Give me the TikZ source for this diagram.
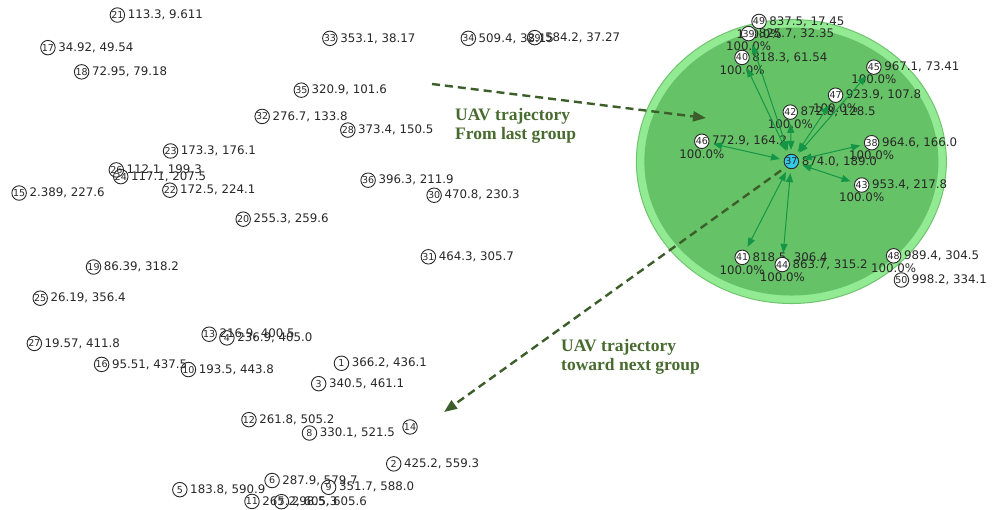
\documentclass[tikz,border=0pt]{standalone}
\usepackage{fontspec}
\setmainfont{DejaVu Sans}
\newfontfamily\notefont{Liberation Serif}
\usetikzlibrary{arrows.meta}

\definecolor{linkgreen}{RGB}{20,150,70}
\definecolor{ringgreen}{RGB}{146,234,146}
\definecolor{ringedge}{RGB}{112,196,112}
\definecolor{zonegreen}{RGB}{102,194,102}
\definecolor{pathgreen}{RGB}{60,94,42}
\definecolor{notegreen}{RGB}{72,108,48}
\definecolor{headcyan}{RGB}{50,200,230}
\definecolor{inkgray}{RGB}{40,40,40}

\pgfdeclarelayer{background}
\pgfsetlayers{background,main}

\tikzset{
  sensor/.style={circle, draw=inkgray, line width=0.9pt, inner sep=0pt,
    minimum size=14.5pt, font=\fontsize{9.5}{9.5}\selectfont, text=inkgray},
  member/.style={sensor, fill=white},
  head/.style={sensor, fill=headcyan},
  coordtext/.style={anchor=west, inner sep=0pt,
    font=\fontsize{11.8}{12}\selectfont, text=inkgray},
  ratio/.style={anchor=center, inner sep=0pt,
    font=\fontsize{11.8}{12}\selectfont, text=inkgray},
  link/.style={draw=linkgreen, line width=1pt,
    {Triangle[length=9pt,width=7pt]}-{Triangle[length=9pt,width=7pt]},
    shorten <=4pt, shorten >=4pt},
  route/.style={draw=pathgreen, line width=2.4pt, dash pattern=on 8pt off 5pt,
    -{Triangle[length=13pt,width=10pt]}},
  note/.style={anchor=north west, inner sep=0pt, align=left, text=notegreen,
    font=\notefont\bfseries\fontsize{17.5}{19.5}\selectfont}
}

% field position (x, y) -> canvas point
\newcommand\plainsite[3]{%
  \node[sensor] (n#1) at ({17+0.886*#2},{7.2+0.8165*#3}) {#1};
  \node[coordtext] (t#1) at ([xshift=2.5pt]n#1.east) {#2, #3};}
\newcommand\membersite[3]{%
  \node[member] (n#1) at ({17+0.886*#2},{7.2+0.8165*#3}) {#1};
  \node[coordtext] (t#1) at ([xshift=2.5pt]n#1.east) {#2, #3};
  \node[ratio] (p#1) at ([yshift=-12.5pt]n#1.center) {100.0\%};}

\begin{document}
\begin{tikzpicture}[x=1pt, y=-1pt]
\useasboundingbox (0,0) rectangle (993,510);

% scattered sensors
\plainsite{1}{366.2}{436.1}
\plainsite{2}{425.2}{559.3}
\plainsite{3}{340.5}{461.1}
\plainsite{13}{216.9}{400.5}
\plainsite{4}{236.9}{405.0}
\plainsite{5}{183.8}{590.9}
\plainsite{6}{287.9}{579.7}
\plainsite{8}{330.1}{521.5}
\plainsite{9}{351.7}{588.0}
\plainsite{16}{95.51}{437.5}
\plainsite{10}{193.5}{443.8}
\plainsite{11}{265.2}{605.3}
\plainsite{7}{298.5}{605.6}
\plainsite{12}{261.8}{505.2}
\node[sensor] (n14) at ({17+0.886*443.6},{7.2+0.8165*514.1}) {14};
\plainsite{15}{2.389}{227.6}
\plainsite{17}{34.92}{49.54}
\plainsite{18}{72.95}{79.18}
\plainsite{19}{86.39}{318.2}
\plainsite{20}{255.3}{259.6}
\plainsite{21}{113.3}{9.611}
\plainsite{22}{172.5}{224.1}
\plainsite{23}{173.3}{176.1}
\plainsite{26}{112.1}{199.3}
\plainsite{24}{117.1}{207.5}
\plainsite{25}{26.19}{356.4}
\plainsite{27}{19.57}{411.8}
\plainsite{28}{373.4}{150.5}
\plainsite{34}{509.4}{38.15}
\plainsite{29}{584.2}{37.27}
\plainsite{30}{470.8}{230.3}
\plainsite{31}{464.3}{305.7}
\plainsite{32}{276.7}{133.8}
\plainsite{33}{353.1}{38.17}
\plainsite{35}{320.9}{101.6}
\plainsite{36}{396.3}{211.9}

% cluster around the head node
\node[head] (n37) at ({17+0.886*874.0},{7.2+0.8165*189.0}) {37};
\node[coordtext] (t37) at ([xshift=2.5pt]n37.east) {874.0, 189.0};
\membersite{49}{837.5}{17.45}
\membersite{39}{825.7}{32.35}
\membersite{40}{818.3}{61.54}
\membersite{45}{967.1}{73.41}
\membersite{47}{923.9}{107.8}
\membersite{42}{872.8}{128.5}
\membersite{46}{772.9}{164.2}
\membersite{38}{964.6}{166.0}
\membersite{43}{953.4}{217.8}
\membersite{41}{818.5}{306.4}
\membersite{44}{863.7}{315.2}
\membersite{48}{989.4}{304.5}
\plainsite{50}{998.2}{334.1}

% coverage zone of the head
\begin{pgfonlayer}{background}
  \fill[white] (0,0) rectangle (993,510);
  \filldraw[fill=ringgreen, draw=ringedge, line width=1pt]
    (n37.center) ellipse [x radius=155, y radius=142];
  \fill[zonegreen] (n37.center) ellipse [x radius=147, y radius=134];
\end{pgfonlayer}

% links between the head and its members
\foreach \m in {38,39,40,41,42,43,44,45,46,47}
  \draw[link] (n37) -- (n\m);

% UAV path
\coordinate (inFrom) at (432,84);
\coordinate (inTo) at (706,118);
\coordinate (outTo) at (444,412);
\draw[route] (inFrom) -- (inTo);
\draw[route, shorten <=6pt] (n37.south west) -- (outTo);

\node[note] (noteIn) at (455,108) {UAV trajectory\\From last group};
\node[note] (noteOut) at (561,339) {UAV trajectory\\toward next group};
\end{tikzpicture}
\end{document}
